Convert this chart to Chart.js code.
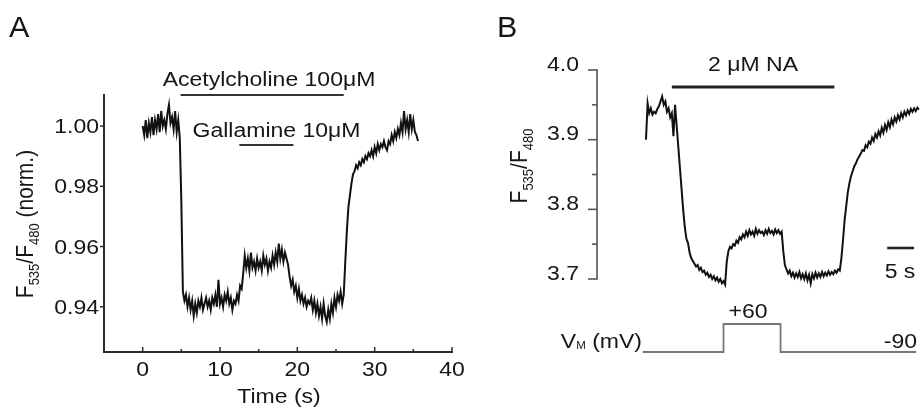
<!DOCTYPE html>
<html><head><meta charset="utf-8">
<script src="https://cdn.jsdelivr.net/npm/chart.js@4.4.1/dist/chart.umd.min.js"></script>
<style>
html,body{margin:0;padding:0;background:#fff;}
#wrap{position:relative;width:920px;height:411px;overflow:hidden;background:#fff;}
#cA{position:absolute;left:0;top:0;}
#cB{position:absolute;left:480px;top:0;}
</style></head><body>
<div id="wrap">
<canvas id="cA" width="480" height="411"></canvas>
<canvas id="cB" width="440" height="411"></canvas>
</div>
<script>
// ---------------- DATA ----------------
// Panel A: normalized F535/F480, sampled every 0.2 s from t = 0 s
const traceA_t0 = 0, traceA_dt = 0.2;
const traceA = [
 1.000,0.997,1.002,0.996,1.001,0.998,1.003,0.997,1.002,0.999,
 1.004,0.998,1.005,1.000,1.002,0.999,1.004,1.007,1.001,1.003,
 0.999,1.005,0.998,1.002,0.996,0.975,0.945,0.942,0.944,0.940,
 0.943,0.939,0.942,0.937,0.941,0.938,0.942,0.940,0.943,0.939,
 0.941,0.943,0.940,0.942,0.939,0.943,0.941,0.944,0.940,0.949,
 0.941,0.943,0.940,0.944,0.942,0.945,0.941,0.943,0.939,0.942,
 0.941,0.944,0.942,0.947,0.946,0.951,0.957,0.953,0.956,0.952,
 0.958,0.953,0.955,0.952,0.956,0.953,0.955,0.952,0.957,0.954,
 0.956,0.952,0.955,0.953,0.957,0.954,0.958,0.955,0.961,0.956,
 0.959,0.955,0.958,0.956,0.954,0.950,0.947,0.949,0.945,0.947,
 0.943,0.946,0.942,0.944,0.941,0.943,0.940,0.942,0.941,0.943,
 0.939,0.942,0.938,0.941,0.937,0.940,0.936,0.941,0.937,0.935,
 0.939,0.936,0.941,0.938,0.943,0.940,0.944,0.942,0.945,0.941,
 0.944,0.955,0.965,0.973,0.977,0.981,0.984,0.985,0.987,0.986,
 0.988,0.987,0.989,0.988,0.990,0.989,0.991,0.990,0.992,0.990,
 0.993,0.991,0.994,0.992,0.994,0.993,0.995,0.993,0.992,0.995,
 0.994,0.997,0.995,0.998,0.996,0.999,0.997,1.001,0.998,1.005,
 0.999,1.002,0.998,1.004,0.999,1.002,0.998,0.997,0.995
];
const achBarA = {from: 4.9, to: 26.0, level: 1.0103};
const galBarA = {from: 12.5, to: 19.5, level: 0.9937};
const xTicksA = [0, 10, 20, 30, 40];
const xMinorA = [5, 15, 25, 35];
const yTicksA = [0.94, 0.96, 0.98, 1.00];

// Panel B: F535/F480 ratio, sampled every 0.3 s from t = 0 s
const traceB_t0 = 0, traceB_dt = 0.3;
const traceB = [
 3.900,3.952,3.938,3.945,3.936,3.940,3.938,3.944,3.948,3.955,
 3.962,3.950,3.955,3.940,3.945,3.932,3.938,3.905,3.950,3.920,
 3.890,3.860,3.830,3.800,3.775,3.758,3.752,3.738,3.730,3.726,
 3.722,3.718,3.720,3.713,3.716,3.710,3.712,3.706,3.709,3.703,
 3.706,3.700,3.704,3.698,3.702,3.696,3.700,3.694,3.697,3.692,
 3.725,3.740,3.746,3.744,3.750,3.748,3.755,3.752,3.760,3.757,
 3.764,3.760,3.768,3.762,3.770,3.764,3.768,3.762,3.772,3.765,
 3.770,3.766,3.768,3.763,3.770,3.765,3.772,3.766,3.769,3.764,
 3.771,3.766,3.770,3.765,3.768,3.740,3.720,3.714,3.708,3.712,
 3.704,3.709,3.702,3.708,3.703,3.710,3.701,3.707,3.700,3.708,
 3.698,3.706,3.694,3.707,3.701,3.709,3.702,3.708,3.703,3.710,
 3.704,3.709,3.705,3.711,3.706,3.710,3.707,3.712,3.709,3.714,
 3.712,3.730,3.756,3.785,3.805,3.825,3.838,3.848,3.855,3.862,
 3.866,3.872,3.876,3.880,3.885,3.884,3.892,3.889,3.897,3.894,
 3.903,3.898,3.908,3.903,3.912,3.906,3.917,3.910,3.921,3.914,
 3.925,3.918,3.929,3.922,3.932,3.926,3.935,3.929,3.938,3.932,
 3.940,3.935,3.942,3.937,3.944,3.940,3.945,3.941,3.946,3.943
];
const naBarB = {from: 4.8, to: 35.0, level: 3.9756};
const scaleBarB = {from: 44.8, to: 49.8, level: 3.7445};
const vmTimes = [-0.6, 14.4, 14.4, 25.0, 25.0, 50.2];
const vmValues = [-90, -90, 60, 60, -90, -90];
const yTicksB = [3.7, 3.8, 3.9, 4.0];
const yMinorB = [3.75, 3.85, 3.95];

// ---------------- HELPERS ----------------
const FAM = "'Liberation Sans', Arial, Helvetica, sans-serif";
const SX = 1.15;
const TXT = '#161616';

function txt(ctx, s, x, y, size, align, sx, color) {
  ctx.save();
  ctx.font = size + 'px ' + FAM;
  ctx.fillStyle = color || TXT;
  ctx.textBaseline = 'alphabetic';
  ctx.textAlign = 'left';
  const w = ctx.measureText(s).width * sx;
  const x0 = align === 'center' ? x - w / 2 : align === 'right' ? x - w : x;
  ctx.translate(x0, y);
  ctx.scale(sx, 1);
  ctx.fillText(s, 0, 0);
  ctx.restore();
}
function richWidth(ctx, parts) {
  let w = 0;
  parts.forEach(p => { ctx.font = p.size + 'px ' + FAM; w += ctx.measureText(p.s).width; });
  return w;
}
function richDraw(ctx, parts, x0, y) {
  let x = x0;
  parts.forEach(p => {
    ctx.font = p.size + 'px ' + FAM;
    ctx.fillText(p.s, x, y + (p.dy || 0));
    x += ctx.measureText(p.s).width;
  });
}
function seg(ctx, x1, y1, x2, y2) {
  ctx.beginPath(); ctx.moveTo(x1, y1); ctx.lineTo(x2, y2); ctx.stroke();
}
function pts(t0, dt, arr) { return arr.map((v, i) => ({x: t0 + i * dt, y: v})); }
function bar(b) { return [{x: b.from, y: b.level}, {x: b.to, y: b.level}]; }

// ---------------- PANEL A ----------------
const AX_A = '#2a2a2a';
const decorA = {
  id: 'decorA',
  afterDraw(chart) {
    const {ctx, chartArea: ca, scales: {x, y}} = chart;
    ctx.save();
    ctx.strokeStyle = AX_A; ctx.lineWidth = 1.5;
    xTicksA.forEach(v => { const px = x.getPixelForValue(v); seg(ctx, px, ca.bottom, px, ca.bottom - 5); });
    xMinorA.forEach(v => { const px = x.getPixelForValue(v); seg(ctx, px, ca.bottom, px, ca.bottom - 3); });
    yTicksA.forEach(v => { const py = y.getPixelForValue(v); seg(ctx, ca.left - 4, py, ca.left, py); });
    xTicksA.forEach(v => txt(ctx, String(v), x.getPixelForValue(v), 376, 20, 'center', SX));
    yTicksA.forEach(v => txt(ctx, v.toFixed(2), ca.left - 5, y.getPixelForValue(v) + 7.2, 20, 'right', SX));
    txt(ctx, 'Time (s)', 279, 403, 20, 'center', SX);
    txt(ctx, 'Acetylcholine 100\u03BCM', 269, 86, 20, 'center', SX);
    txt(ctx, 'Gallamine 10\u03BCM', 276.5, 137, 20, 'center', SX);
    txt(ctx, 'A', 9, 37, 29, 'left', 1.05);
    // rotated y-axis label
    const parts = [
      {s: 'F', size: 21}, {s: '535', size: 13, dy: 5}, {s: '/F', size: 21},
      {s: '480', size: 13, dy: 5}, {s: ' (norm.)', size: 21}
    ];
    ctx.save();
    ctx.fillStyle = TXT; ctx.textBaseline = 'alphabetic'; ctx.textAlign = 'left';
    ctx.translate(33, 224);
    ctx.rotate(-Math.PI / 2);
    ctx.scale(1, SX);
    const w = richWidth(ctx, parts);
    richDraw(ctx, parts, -w / 2, 0);
    ctx.restore();
    ctx.restore();
  }
};

new Chart(document.getElementById('cA'), {
  type: 'line',
  data: {
    datasets: [
      {data: pts(traceA_t0, traceA_dt, traceA), borderColor: '#111', borderWidth: 2, pointRadius: 0, tension: 0},
      {data: bar(achBarA), borderColor: '#333', borderWidth: 2.2, pointRadius: 0, clip: false},
      {data: bar(galBarA), borderColor: '#333', borderWidth: 2.2, pointRadius: 0, clip: false}
    ]
  },
  options: {
    responsive: false, animation: false, events: [],
    layout: {padding: {left: 0, top: 95, right: 28, bottom: 0}},
    plugins: {legend: {display: false}, tooltip: {enabled: false}},
    scales: {
      x: {
        type: 'linear', min: -5, max: 40,
        afterBuildTicks: s => { s.ticks = xTicksA.map(v => ({value: v})); },
        afterFit: s => { s.height = 59; },
        grid: {display: false, drawTicks: false},
        border: {display: true, color: AX_A, width: 2},
        ticks: {display: false}
      },
      y: {
        type: 'linear', min: 0.925, max: 1.0103,
        afterBuildTicks: s => { s.ticks = yTicksA.map(v => ({value: v})); },
        afterFit: s => { s.width = 104; },
        grid: {display: false, drawTicks: false},
        border: {display: true, color: AX_A, width: 2},
        ticks: {display: false}
      }
    }
  },
  plugins: [decorA]
});

// ---------------- PANEL B ----------------
const AX_B = '#555';
const decorB = {
  id: 'decorB',
  afterDraw(chart) {
    const {ctx, chartArea: ca, scales: {x, y}} = chart;
    ctx.save();
    ctx.strokeStyle = AX_B; ctx.lineWidth = 1.6;
    const yTop = y.getPixelForValue(4.0), yBot = y.getPixelForValue(3.7);
    seg(ctx, ca.left, yTop - 0.8, ca.left, yBot + 0.8);
    yTicksB.forEach(v => { const py = y.getPixelForValue(v); seg(ctx, ca.left - 9, py, ca.left, py); });
    yMinorB.forEach(v => { const py = y.getPixelForValue(v); seg(ctx, ca.left - 5, py, ca.left, py); });
    yTicksB.forEach(v => txt(ctx, v.toFixed(1), ca.left - 18, y.getPixelForValue(v) + 0.5, 20, 'right', SX));
    txt(ctx, 'B', 17, 37, 29, 'left', 1.05);
    txt(ctx, '2 \u03BCM NA', 273, 71, 20, 'center', SX);
    txt(ctx, '5 s', 420, 278, 20, 'center', SX);
    txt(ctx, '+60', 268, 318, 20, 'center', SX);
    txt(ctx, '-90', 437, 348, 20, 'right', SX);
    // V_M (mV)
    const vparts = [{s: 'V', size: 20}, {s: 'M', size: 10, dy: 1}, {s: ' (mV)', size: 20}];
    ctx.save();
    ctx.fillStyle = TXT; ctx.textBaseline = 'alphabetic'; ctx.textAlign = 'left';
    const vw = richWidth(ctx, vparts) * SX;
    ctx.translate(162 - vw, 348);
    ctx.scale(SX, 1);
    richDraw(ctx, vparts, 0, 0);
    ctx.restore();
    // rotated y label
    const parts = [
      {s: 'F', size: 21}, {s: '535', size: 13, dy: 5}, {s: '/F', size: 21}, {s: '480', size: 13, dy: 5}
    ];
    ctx.save();
    ctx.fillStyle = TXT; ctx.textBaseline = 'alphabetic'; ctx.textAlign = 'left';
    ctx.translate(47, 166);
    ctx.rotate(-Math.PI / 2);
    ctx.scale(1, SX);
    const w = richWidth(ctx, parts);
    richDraw(ctx, parts, -w / 2, 0);
    ctx.restore();
    ctx.restore();
  }
};

new Chart(document.getElementById('cB'), {
  type: 'line',
  data: {
    datasets: [
      {data: pts(traceB_t0, traceB_dt, traceB), borderColor: '#111', borderWidth: 2, pointRadius: 0, tension: 0, yAxisID: 'y'},
      {data: bar(naBarB), borderColor: '#222', borderWidth: 3, pointRadius: 0, clip: false, yAxisID: 'y'},
      {data: bar(scaleBarB), borderColor: '#222', borderWidth: 2.6, pointRadius: 0, clip: false, yAxisID: 'y'},
      {data: vmTimes.map((t, i) => ({x: t, y: vmValues[i]})), borderColor: '#777', borderWidth: 1.8, pointRadius: 0, clip: false, yAxisID: 'y2'}
    ]
  },
  options: {
    responsive: false, animation: false, events: [],
    layout: {padding: {left: 0, top: 50, right: 0, bottom: 31}},
    plugins: {legend: {display: false}, tooltip: {enabled: false}},
    scales: {
      x: {type: 'linear', min: -9.1, max: 50.9, display: false},
      y: {
        type: 'linear', min: 3.55503, max: 4.02871, position: 'left',
        afterBuildTicks: s => { s.ticks = yTicksB.map(v => ({value: v})); },
        afterFit: s => { s.width = 117; },
        grid: {display: false, drawTicks: false},
        border: {display: false},
        ticks: {display: false}
      },
      y2: {type: 'linear', min: -240, max: 1527.9, display: false}
    }
  },
  plugins: [decorB]
});
</script>
</body></html>
